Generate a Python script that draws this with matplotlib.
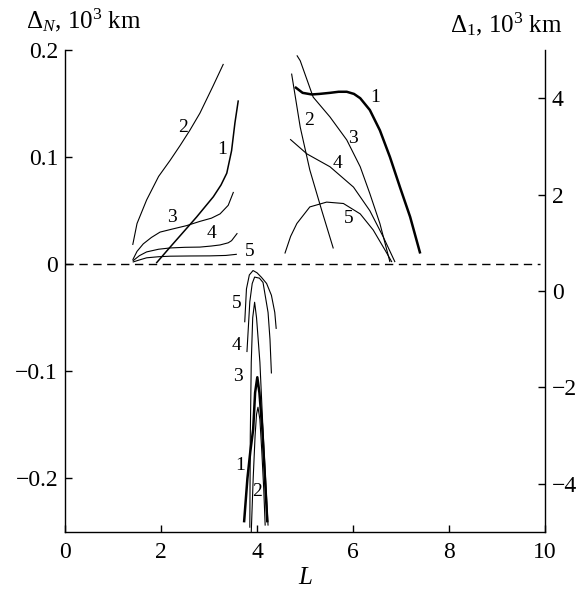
import matplotlib
matplotlib.use("Agg")
import matplotlib.pyplot as plt

plt.rcParams['font.family'] = ['Liberation Serif', 'DejaVu Serif']
plt.rcParams['mathtext.fontset'] = 'custom'
plt.rcParams['mathtext.rm'] = 'Liberation Serif'
plt.rcParams['mathtext.it'] = 'Liberation Serif:italic'
plt.rcParams['mathtext.bf'] = 'Liberation Serif:bold'

# ---- data (L, Delta_N in 10^3 km) ----
# left group (L < 4)
A1_x = [1.90, 2.19, 2.74, 3.09, 3.25, 3.37, 3.47, 3.54, 3.61]
A1_y = [0.001, 0.016, 0.044, 0.063, 0.074, 0.085, 0.106, 0.132, 0.153]
A2_x = [1.41, 1.50, 1.70, 1.95, 2.19, 2.40, 2.60, 2.81, 3.08, 3.30]
A2_y = [0.018, 0.038, 0.060, 0.082, 0.097, 0.111, 0.125, 0.141, 0.166, 0.187]
A3_x = [1.41, 1.50, 1.63, 1.80, 1.98, 2.25, 2.53, 2.81, 3.05, 3.23, 3.40, 3.51]
A3_y = [0.004, 0.012, 0.019, 0.025, 0.030, 0.033, 0.036, 0.040, 0.043, 0.047, 0.055, 0.0675]
A4_x = [1.41, 1.55, 1.70, 1.95, 2.19, 2.50, 2.81, 3.05, 3.23, 3.40, 3.47, 3.59]
A4_y = [0.003, 0.008, 0.0115, 0.014, 0.0152, 0.0158, 0.016, 0.017, 0.018, 0.020, 0.022, 0.029]
A5_x = [1.41, 1.55, 1.70, 1.95, 2.19, 2.60, 3.02, 3.35, 3.58]
A5_y = [0.002, 0.004, 0.006, 0.007, 0.0075, 0.0077, 0.0078, 0.0082, 0.0093]

# right group (L > 4.5)
B1_x = [4.79, 4.95, 5.14, 5.30, 5.52, 5.70, 5.87, 6.02, 6.15, 6.35, 6.56, 6.77, 6.98, 7.19, 7.40]
B1_y = [0.1655, 0.160, 0.1585, 0.159, 0.160, 0.161, 0.161, 0.159, 0.155, 0.144, 0.125, 0.100, 0.0717, 0.0442, 0.010]
B2_x = [4.72, 4.90, 5.10, 5.35, 5.59]
B2_y = [0.178, 0.128, 0.088, 0.050, 0.0147]
B3_x = [4.83, 4.90, 5.17, 5.52, 5.87, 6.15, 6.35, 6.56, 6.77]
B3_y = [0.195, 0.190, 0.156, 0.1375, 0.116, 0.091, 0.066, 0.038, 0.002]
B4_x = [4.69, 5.04, 5.52, 6.01, 6.35, 6.63, 6.875]
B4_y = [0.1167, 0.103, 0.091, 0.072, 0.050, 0.0255, 0.002]
B5_x = [4.58, 4.70, 4.83, 5.10, 5.45, 5.80, 6.15, 6.42, 6.67, 6.81]
B5_y = [0.010, 0.026, 0.038, 0.0535, 0.058, 0.0567, 0.047, 0.032, 0.013, 0.002]

# lower group (around L = 4)
C1_x = [3.73, 3.80, 3.86, 3.92, 3.96, 4.006, 4.05, 4.11, 4.16, 4.215]
C1_y = [-0.241, -0.200, -0.175, -0.154, -0.120, -0.1055, -0.120, -0.154, -0.195, -0.241]
C2_x = [3.88, 3.92, 3.96, 3.99, 4.02, 4.06, 4.10, 4.14, 4.17]
C2_y = [-0.250, -0.200, -0.160, -0.140, -0.1335, -0.145, -0.175, -0.210, -0.244]
C3_x = [3.85, 3.86, 3.88, 3.91, 3.95, 3.99, 4.06, 4.13, 4.23]
C3_y = [-0.246, -0.160, -0.0915, -0.050, -0.0355, -0.050, -0.0915, -0.160, -0.244]
C4_x = [3.79, 3.85, 3.90, 3.95, 4.05, 4.125, 4.23, 4.27, 4.30]
C4_y = [-0.082, -0.035, -0.018, -0.012, -0.013, -0.017, -0.045, -0.070, -0.102]
C5_x = [3.744, 3.78, 3.84, 3.917, 4.00, 4.09, 4.20, 4.30, 4.37, 4.40]
C5_y = [-0.0542, -0.023, -0.010, -0.0059, -0.008, -0.0121, -0.018, -0.029, -0.045, -0.0604]

labels = ['1', '2', '3', '4', '5']
A_lab_pos = [(3.27, 0.107), (2.45, 0.128), (2.23, 0.044), (3.05, 0.029), (3.84, 0.012)]
B_lab_pos = [(6.46, 0.156), (5.09, 0.134), (5.99, 0.117), (5.67, 0.094), (5.92, 0.043)]
C_lab_pos = [(3.64, -0.188), (4.0, -0.212), (3.60, -0.105), (3.57, -0.076), (3.57, -0.037)]

x_ticks = [0, 2, 4, 6, 8, 10]
yl_ticks = [-0.2, -0.1, 0, 0.1, 0.2]
yl_labels = ['\u22120.2', '\u22120.1', '0', '0.1', '0.2']
yr_ticks = [-4, -2, 0, 2, 4]
yr_labels = ['\u22124', '\u22122', '0', '2', '4']

fig = plt.figure(figsize=(5.79, 5.91), dpi=100)
ax = fig.add_axes([0.1123, 0.0998, 0.829, 0.8156])
ax.set_xlim(0, 10)
ax.set_ylim(-0.25, 0.2)
ax2 = ax.twinx()
ax2.set_ylim(-5, 5)

for a in (ax, ax2):
    a.spines['top'].set_visible(False)
    for s in a.spines.values():
        s.set_linewidth(1.0)

ax.spines['right'].set_visible(False)
ax2.spines['left'].set_visible(False)
ax2.spines['bottom'].set_visible(False)

thin = 0.8
thick = 1.8
groups = [
    ([A1_x, A2_x, A3_x, A4_x, A5_x], [A1_y, A2_y, A3_y, A4_y, A5_y], A_lab_pos, [1.1, thin, thin, thin, thin]),
    ([B1_x, B2_x, B3_x, B4_x, B5_x], [B1_y, B2_y, B3_y, B4_y, B5_y], B_lab_pos, [thick, thin, thin, thin, thin]),
    ([C1_x, C2_x, C3_x, C4_x, C5_x], [C1_y, C2_y, C3_y, C4_y, C5_y], C_lab_pos, [thick, thin, thin, thin, thin]),
]
for xs, ys, lpos, lws in groups:
    for x, y, lab, p, lw in zip(xs, ys, labels, lpos, lws):
        ax.plot(x, y, color='black', lw=lw, solid_capstyle='butt')
        ax.text(p[0], p[1], lab, fontsize=14, ha='center', va='center')

ax.axhline(0, xmin=0, xmax=0.99, color='black', lw=1.0, ls=(0, (6, 4)))

ax.set_xticks(x_ticks)
ax.set_xticklabels([str(t) for t in x_ticks])
ax.set_yticks(yl_ticks)
ax.set_yticklabels(yl_labels)
ax2.set_yticks(yr_ticks)
ax2.set_yticklabels(yr_labels)
ax.tick_params(axis='x', direction='in', length=5, width=1, labelsize=17, pad=7)
ax.tick_params(axis='y', direction='in', length=5, width=1, labelsize=17, pad=5)
ax2.tick_params(direction='in', length=5, width=1, labelsize=17, pad=5)

ax.set_xlabel('$L$', fontsize=18, labelpad=3)
fig.text(0.045, 0.943, r'$\Delta_N$, 10$^3$ km', fontsize=18, ha='left', va='bottom')
fig.text(0.972, 0.936, r'$\Delta_1$, 10$^3$ km', fontsize=18, ha='right', va='bottom')

fig.savefig('out.png', dpi=100)
